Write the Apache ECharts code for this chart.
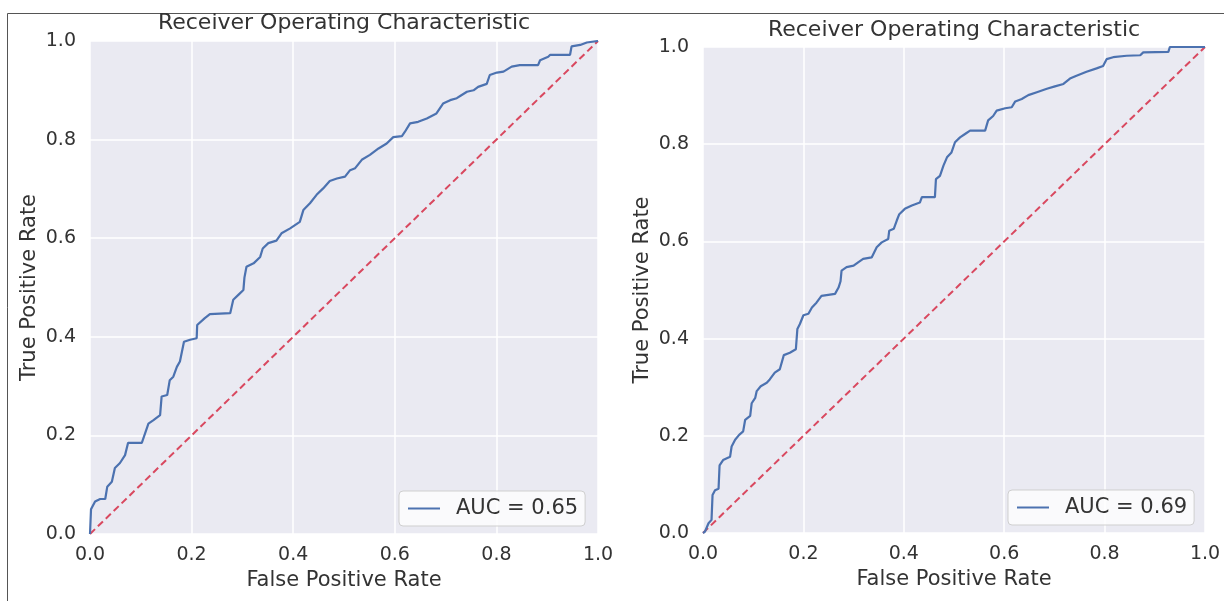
<!DOCTYPE html>
<html>
<head>
<meta charset="utf-8">
<script src="https://cdn.jsdelivr.net/npm/echarts@6/dist/echarts.min.js"></script>
<style>
html,body{margin:0;padding:0;background:#fff;}
#c{width:1224px;height:601px;}
</style>
</head>
<body>
<div id="c"></div>
<script>
// ---- Data ----
const ticks = [0, 0.2, 0.4, 0.6, 0.8, 1.0];
const titleText = 'Receiver Operating Characteristic';
const xLabel = 'False Positive Rate';
const yLabel = 'True Positive Rate';

const nameA = 'AUC = 0.65';
const fprA = [0,0.002,0.01,0.02,0.03,0.034,0.043,0.049,0.059,0.069,0.075,0.102,0.115,0.125,0.138,0.141,0.152,0.157,0.164,0.171,0.177,0.185,0.197,0.21,0.211,0.226,0.236,0.276,0.282,0.292,0.302,0.304,0.308,0.322,0.335,0.34,0.351,0.367,0.377,0.394,0.413,0.42,0.433,0.446,0.459,0.472,0.486,0.502,0.512,0.522,0.535,0.551,0.568,0.584,0.597,0.614,0.62,0.63,0.646,0.663,0.682,0.695,0.709,0.722,0.731,0.742,0.755,0.764,0.781,0.787,0.801,0.814,0.83,0.846,0.882,0.886,0.902,0.906,0.945,0.948,0.965,0.978,0.98,1];
const tprA = [0,0.05,0.066,0.071,0.071,0.096,0.106,0.134,0.144,0.16,0.185,0.185,0.224,0.231,0.241,0.279,0.282,0.312,0.319,0.339,0.35,0.39,0.394,0.397,0.424,0.438,0.446,0.448,0.475,0.485,0.495,0.52,0.542,0.549,0.562,0.579,0.59,0.595,0.61,0.62,0.633,0.657,0.671,0.688,0.701,0.716,0.721,0.725,0.738,0.742,0.759,0.769,0.782,0.792,0.805,0.807,0.816,0.833,0.836,0.843,0.853,0.873,0.88,0.884,0.89,0.897,0.9,0.907,0.913,0.931,0.936,0.938,0.948,0.951,0.951,0.961,0.968,0.972,0.972,0.989,0.992,0.997,1.0,1];

const nameB = 'AUC = 0.69';
const fprB = [0,0.004,0.011,0.017,0.019,0.024,0.031,0.033,0.04,0.054,0.057,0.064,0.072,0.08,0.084,0.094,0.097,0.104,0.107,0.115,0.127,0.133,0.143,0.153,0.161,0.173,0.185,0.188,0.193,0.2,0.21,0.217,0.226,0.236,0.263,0.27,0.274,0.276,0.286,0.3,0.309,0.319,0.336,0.346,0.356,0.369,0.371,0.38,0.386,0.391,0.402,0.416,0.432,0.436,0.462,0.464,0.472,0.479,0.486,0.495,0.502,0.512,0.522,0.532,0.562,0.568,0.578,0.585,0.602,0.615,0.622,0.635,0.648,0.665,0.685,0.701,0.718,0.731,0.744,0.764,0.784,0.797,0.804,0.817,0.844,0.871,0.877,0.927,0.93,1];
const tprB = [0,0.003,0.02,0.027,0.078,0.088,0.091,0.139,0.15,0.157,0.178,0.192,0.202,0.209,0.233,0.241,0.267,0.278,0.292,0.302,0.309,0.316,0.33,0.337,0.366,0.371,0.378,0.42,0.43,0.448,0.451,0.464,0.474,0.488,0.492,0.505,0.518,0.54,0.547,0.55,0.557,0.564,0.567,0.588,0.598,0.605,0.622,0.626,0.643,0.656,0.667,0.674,0.68,0.691,0.691,0.728,0.735,0.756,0.773,0.783,0.804,0.814,0.821,0.828,0.828,0.849,0.858,0.869,0.874,0.876,0.888,0.893,0.901,0.907,0.914,0.919,0.924,0.935,0.941,0.949,0.956,0.961,0.975,0.979,0.982,0.983,0.989,0.99,1.0,1];

const diagX = [0, 1];
const diagY = [0, 1];

// ---- Styles ----
const FONT = 'DejaVu Sans';
const TXT = '#333333';
const BLUE = '#4C72B0';
const RED = '#D9485F';

const zip = (a, b) => a.map((v, i) => [v, b[i]]);

function axisX(gi) {
  return {
    type: 'value', gridIndex: gi, min: ticks[0], max: ticks[ticks.length-1], interval: 0.2,
    name: xLabel, nameLocation: 'middle', nameGap: 33,
    nameTextStyle: {fontFamily: FONT, fontSize: 21, color: TXT},
    axisLine: {show: false}, axisTick: {show: false},
    axisLabel: {fontFamily: FONT, fontSize: 19, color: TXT, margin: 12, formatter: v => v.toFixed(1)},
    splitLine: {show: true, lineStyle: {color: '#ffffff', width: 1.5}}
  };
}
function axisY(gi) {
  return {
    type: 'value', gridIndex: gi, min: ticks[0], max: ticks[ticks.length-1], interval: 0.2,
    name: yLabel, nameLocation: 'middle', nameGap: 50, nameRotate: 90,
    nameTextStyle: {fontFamily: FONT, fontSize: 21, color: TXT},
    axisLine: {show: false}, axisTick: {show: false},
    axisLabel: {fontFamily: FONT, fontSize: 19, color: TXT, margin: 14, formatter: v => v.toFixed(1)},
    splitLine: {show: true, lineStyle: {color: '#ffffff', width: 1.5}}
  };
}
function legendFor(name, left, top) {
  return {
    data: [name], left: left, top: top, orient: 'horizontal',
    icon: 'rect', itemWidth: 32, itemHeight: 2,
    backgroundColor: 'rgba(253,253,254,0.85)', borderColor: '#cfcfcf', borderWidth: 1, borderRadius: 4,
    padding: [7, 7, 7, 9],
    textStyle: {fontFamily: FONT, fontSize: 21, color: TXT, padding: [0, 0, 0, 11]},
    selectedMode: false
  };
}

const chart = echarts.init(document.getElementById('c'), null, {renderer: 'canvas'});
chart.setOption({
  animation: false,
  backgroundColor: '#ffffff',
  title: [
    {text: titleText, left: 344, top: 12, textAlign: 'center', padding: 0,
     textStyle: {fontFamily: FONT, fontSize: 22, fontWeight: 'normal', color: TXT}},
    {text: titleText, left: 954, top: 19, textAlign: 'center', padding: 0,
     textStyle: {fontFamily: FONT, fontSize: 22, fontWeight: 'normal', color: TXT}}
  ],
  grid: [
    {left: 90, top: 41, width: 508, height: 493, show: true, backgroundColor: '#EAEAF2', borderWidth: 0},
    {left: 703, top: 47, width: 502, height: 486, show: true, backgroundColor: '#EAEAF2', borderWidth: 0}
  ],
  xAxis: [axisX(0), axisX(1)],
  yAxis: [axisY(0), axisY(1)],
  legend: [legendFor(nameA, 399, 491), legendFor(nameB, 1008, 490)],
  series: [
    {name: nameA, type: 'line', xAxisIndex: 0, yAxisIndex: 0, data: zip(fprA, tprA),
     showSymbol: false, symbol: 'none', lineStyle: {color: BLUE, width: 2.2}, itemStyle: {color: BLUE}, z: 3},
    {name: 'diagA', type: 'line', xAxisIndex: 0, yAxisIndex: 0, data: zip(diagX, diagY),
     showSymbol: false, symbol: 'none', lineStyle: {color: RED, width: 2, type: [7, 4]}, z: 2},
    {name: nameB, type: 'line', xAxisIndex: 1, yAxisIndex: 1, data: zip(fprB, tprB),
     showSymbol: false, symbol: 'none', lineStyle: {color: BLUE, width: 2.2}, itemStyle: {color: BLUE}, z: 3},
    {name: 'diagB', type: 'line', xAxisIndex: 1, yAxisIndex: 1, data: zip(diagX, diagY),
     showSymbol: false, symbol: 'none', lineStyle: {color: RED, width: 2, type: [7, 4]}, z: 2}
  ],
  graphic: [
    {type: 'line', shape: {x1: 7.5, y1: 13.5, x2: 7.5, y2: 601}, style: {stroke: '#555', lineWidth: 1}},
    {type: 'line', shape: {x1: 7.5, y1: 13.5, x2: 614, y2: 13.5}, style: {stroke: '#555', lineWidth: 1}},
    {type: 'line', shape: {x1: 612, y1: 13.5, x2: 1224, y2: 13.5}, style: {stroke: '#555', lineWidth: 1}}
  ]
});
</script>
</body>
</html>
